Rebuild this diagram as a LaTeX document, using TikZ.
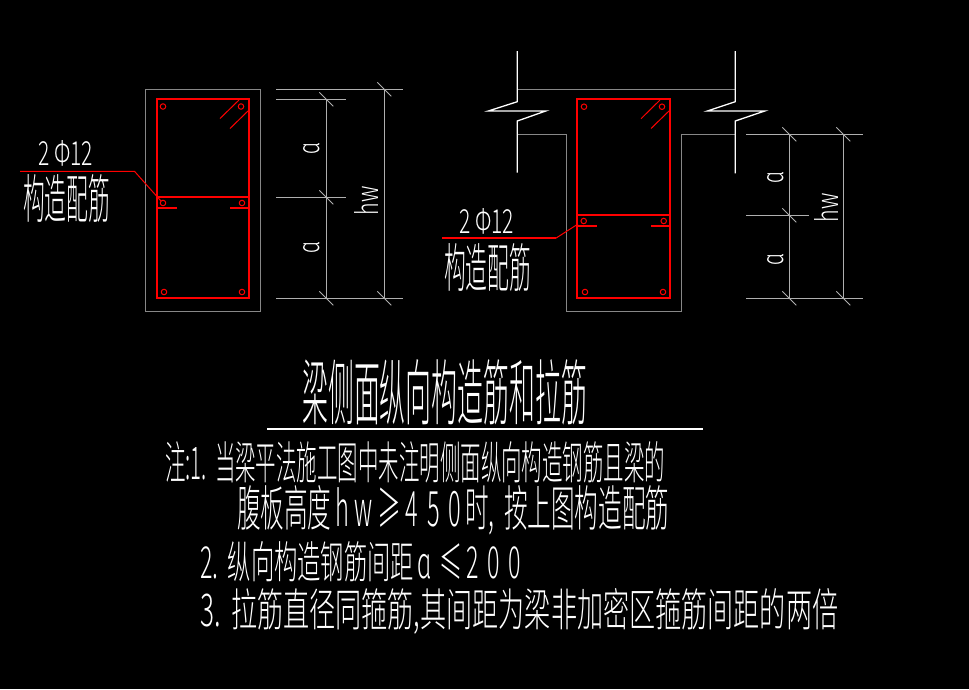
\documentclass[tikz,border=0pt]{standalone}
\usepackage{fontspec}
\usepackage{graphicx}
\newfontfamily\cjk{Noto Sans CJK SC Light}
\newcommand{\fittext}[3]{\resizebox{#1pt}{#2pt}{\cjk #3}}
\newcommand{\cell}[1]{\makebox[0.9em]{#1}}
\definecolor{cadred}{RGB}{255,0,0}
\definecolor{concrete}{RGB}{135,135,135}
\definecolor{dimline}{RGB}{175,175,175}
\tikzset{
  rebar/.style={draw=cadred,line width=1.7pt},
  thinrebar/.style={draw=cadred,line width=1pt},
  bar/.style={draw=cadred,line width=1pt,circle,minimum size=5.5pt,inner sep=0pt},
  conc/.style={draw=concrete,line width=1.3pt},
  breakline/.style={draw=white,line width=1.3pt},
  dimln/.style={draw=dimline,line width=1.3pt},
  tick/.style={draw=dimline,line width=0.8pt},
  label/.style={text=white,inner sep=0pt,anchor=north west},
  rot/.style={text=white,inner sep=0pt,rotate=90}
}
\begin{document}
\begin{tikzpicture}[x=1pt,y=-1pt]
\useasboundingbox (0,0) rectangle (969,689);
\fill[black] (0,0) rectangle (969,689);
% left section
\draw[conc] (145.3,89.3) rectangle (260.3,311.3);
\draw[rebar] (157.3,99.3) rectangle (249.3,298.3);
\draw[rebar] (157.3,197.3) -- (249.3,197.3);
\draw[rebar] (158,208.3) -- (177,208.3) (230,208.3) -- (249,208.3);
\draw[thinrebar] (220,118.5) -- (239,100) (230,128.5) -- (249,110);
\node[bar] (la) at (163,106.5) {};
\node[bar] (lb) at (241,106.5) {};
\node[bar] (lc) at (163,203) {};
\node[bar] (ld) at (242,203) {};
\node[bar] (le) at (164,292) {};
\node[bar] (lf) at (242,292) {};
\coordinate (ll0) at (20,171.3);
\coordinate (ll1) at (134.5,171.3);
\draw[thinrebar] (ll0) -- (ll1) -- (lc.north west);
% left dims
\draw[dimln] (276,89.3) -- (403,89.3) (276,99.3) -- (346,99.3) (276,197.3) -- (346,197.3) (276,298.3) -- (403,298.3);
\draw[dimln] (326.3,99.3) -- (326.3,298.3) (384.3,89.3) -- (384.3,298.3);
\foreach \a/\b in {326.3/99.3,326.3/197.3,326.3/298.3,384.3/89.3,384.3/298.3}{\draw[tick] (\a-7,\b-7) -- (\a+7,\b+7);}
\node[rot] (la1) at (312,148) {\fittext{12}{16}{ɑ}};
\node[rot] (la2) at (312,247) {\fittext{12}{16}{ɑ}};
\node[rot] (lhw) at (366,201) {\fittext{29}{24}{hw}};
% right section
\draw[conc] (517.3,89.3) -- (735.3,89.3);
\draw[conc] (517.3,134.3) -- (566.3,134.3) -- (566.3,311.3) -- (681.3,311.3) -- (681.3,134.3) -- (735.3,134.3);
\draw[breakline] (517.3,51) -- (517.3,101.7) -- (488.3,111) -- (545.7,111) -- (517.3,121) -- (517.3,172.7);
\draw[breakline] (735.3,51) -- (735.3,101.7) -- (707.3,111) -- (764.7,111) -- (735.3,121) -- (735.3,173.3);
\draw[rebar] (577.3,99.3) rectangle (670.3,298.3);
\draw[rebar] (577.3,215.3) -- (670.3,215.3);
\draw[rebar] (578,226.3) -- (597,226.3) (651,226.3) -- (670,226.3);
\draw[thinrebar] (641,118.7) -- (660,100) (651,128.5) -- (670,110);
\node[bar] (ra) at (584,106.7) {};
\node[bar] (rb) at (662,106.7) {};
\node[bar] (rc) at (583.7,221) {};
\node[bar] (rd) at (663.7,221) {};
\node[bar] (re) at (585,292) {};
\node[bar] (rf) at (663,292) {};
\coordinate (rl0) at (442,238.3);
\coordinate (rl1) at (555.7,238.3);
\draw[rebar] (rl0) -- (rl1);
\draw[thinrebar] (rl1) -- (578,224);
% right dims
\draw[dimln] (746,134.3) -- (863,134.3) (746,215.3) -- (809,215.3) (746,298.3) -- (863,298.3);
\draw[dimln] (789.3,134.3) -- (789.3,298.3) (843.3,134.3) -- (843.3,298.3);
\foreach \a/\b in {789.3/134.3,789.3/215.3,789.3/298.3,843.3/134.3,843.3/298.3}{\draw[tick] (\a-7,\b-7) -- (\a+7,\b+7);}
\node[rot] (ra1) at (775.7,177) {\fittext{12}{16}{ɑ}};
\node[rot] (ra2) at (775.7,259) {\fittext{12}{16}{ɑ}};
\node[rot] (rhw) at (826,208) {\fittext{29}{24}{hw}};
% leader texts
\node[label] (t1) at (38,140) {\fittext{55}{25}{2 Φ12}};
\node[label] (t2) at (23,174) {\fittext{87}{44}{构造配筋}};
\node[label] (t3) at (459,208) {\fittext{55}{25}{2 Φ12}};
\node[label] (t4) at (444,243) {\fittext{87}{44}{构造配筋}};
% title and notes
\node[label] (title) at (302,359) {\fittext{285}{60}{梁侧面纵向构造筋和拉筋}};
\draw[draw=white,line width=1.2pt] (267,429) -- (703,429);
\node[label] (n1) at (165,441) {\fittext{500}{38}{注:1.\hspace{.4em}当梁平法施工图中未注明侧面纵向构造钢筋且梁的}};
\node[label] (n2) at (237,485) {\fittext{432}{41}{腹板高度\cell{h}\cell{w}\,≥\cell{4}\cell{5}\cell{0}时,\hspace{.4em}按上图构造配筋}};
\node[label] (n3) at (200,541) {\fittext{325}{37}{2.\hspace{.4em}纵向构造钢筋间距\cell{ɑ}\,≤\cell{2}\cell{0}\cell{0}}};
\node[label] (n4) at (200,588) {\fittext{638}{38}{3.\hspace{.4em}拉筋直径同箍筋,其间距为梁非加密区箍筋间距的两倍}};
\end{tikzpicture}
\end{document}
